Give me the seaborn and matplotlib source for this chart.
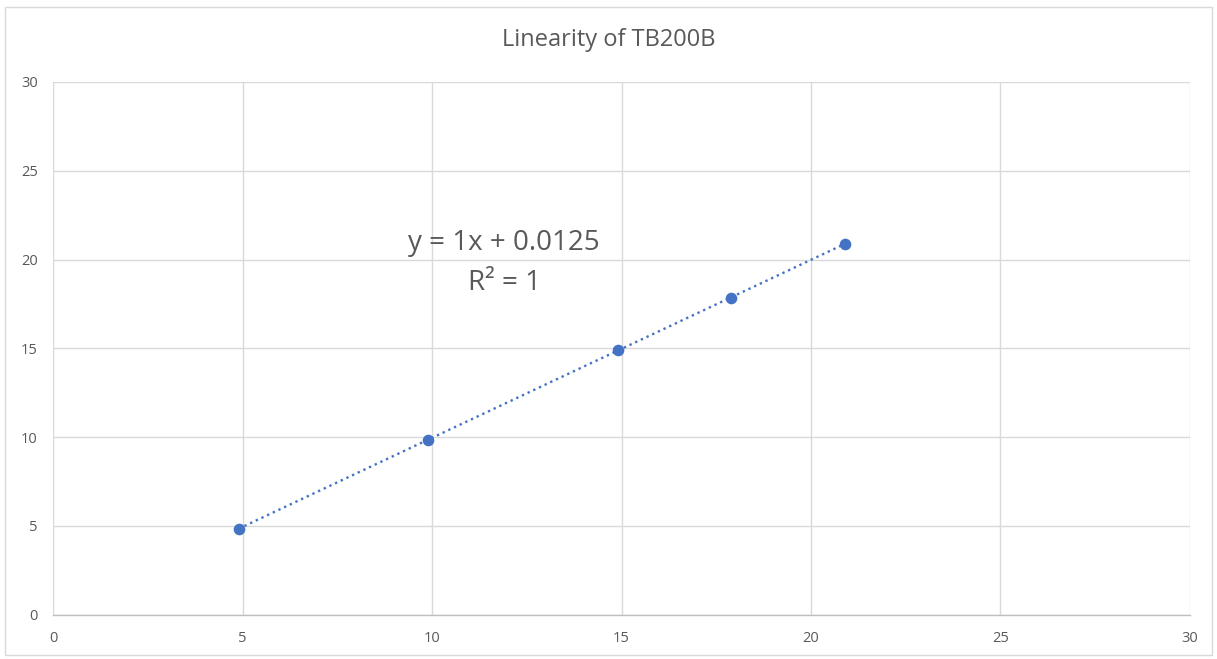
import numpy as np
import pandas as pd
import seaborn as sns
import matplotlib.pyplot as plt
from matplotlib.patches import Rectangle

# values
x_values = [4.9, 9.9, 14.9, 17.9, 20.9]
y_values = [4.85, 9.85, 14.9, 17.85, 20.9]
axis_ticks = [0, 5, 10, 15, 20, 25, 30]
chart_title = "Linearity of TB200B"
equation_text = "y = 1x + 0.0125"
r2_text = "R² = 1"

BLUE = "#4472C4"
TEXT_GREY = "#595959"
GRID_GREY = "#d9d9d9"


def build_frame():
    return pd.DataFrame({"x": x_values, "y": y_values})


def draw_chart(df):
    sns.set_style("white")
    plt.rcParams['font.family'] = ['Open Sans', 'DejaVu Sans']

    fig = plt.figure(figsize=(12.17, 6.59), dpi=100)
    ax = fig.add_axes([0.0436, 0.0672, 0.9342, 0.8084])

    sns.regplot(data=df, x="x", y="y", ax=ax, ci=None, color=BLUE,
                scatter_kws={"s": 70, "zorder": 3, "linewidths": 0, "alpha": 1},
                line_kws={"linestyle": ":", "linewidth": 1.7, "zorder": 2})

    ax.set_xlim(0, 30)
    ax.set_ylim(0, 30)
    ax.set_xticks(axis_ticks)
    ax.set_yticks(axis_ticks)
    ax.grid(True, color=GRID_GREY, linewidth=1.0)
    ax.set_axisbelow(True)
    ax.set_xlabel("")
    ax.set_ylabel("")

    for side in ["top", "right", "left"]:
        ax.spines[side].set_visible(False)
    ax.spines["bottom"].set_color("#bfbfbf")
    ax.spines["bottom"].set_linewidth(1.0)

    ax.tick_params(axis="both", length=0, labelsize=10.5, colors=TEXT_GREY)
    ax.tick_params(axis="y", pad=11)
    ax.tick_params(axis="x", pad=12)

    ax.text(11.9, 20.95, equation_text, ha="center", va="center",
            fontsize=20, color=TEXT_GREY)
    ax.text(11.9, 18.7, r2_text, ha="center", va="center",
            fontsize=20, color=TEXT_GREY)

    fig.text(0.5, 1 - 40 / 659, chart_title, ha="center", va="center",
             fontsize=17, color=TEXT_GREY)

    # light frame round the whole chart area
    fig.patches.append(Rectangle((5 / 1217, 4 / 659), 1207 / 1217, 648 / 659,
                                 transform=fig.transFigure, fill=False,
                                 edgecolor="#d9d9d9", linewidth=1.0))

    fig.savefig("out.png", dpi=100)


if __name__ == "__main__":
    df = build_frame()
    draw_chart(df)
